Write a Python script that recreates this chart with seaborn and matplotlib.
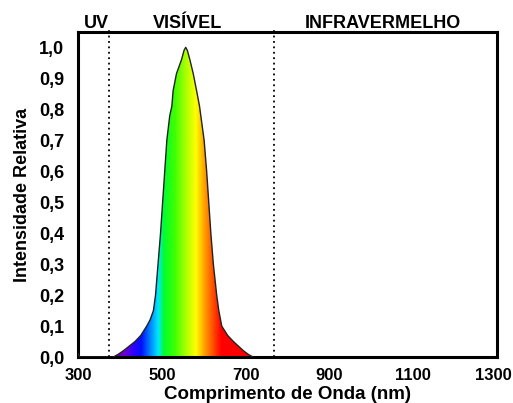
import numpy as np
import pandas as pd
import matplotlib
matplotlib.use("Agg")
import matplotlib.pyplot as plt
import matplotlib.transforms as mtransforms
from matplotlib.colors import LinearSegmentedColormap
import seaborn as sns

# ---- data ----
wavelength = [300, 304, 384, 395, 408, 422, 436, 450, 464, 472, 480, 485, 491, 497,
              502, 507, 512, 519, 524, 527, 535, 547, 553, 557, 561, 567, 575, 583,
              590, 595, 601, 607, 612, 617, 623, 631, 636, 643, 657, 671, 683, 695,
              707, 718]
intensity = [0.012, 0.0, 0.0, 0.008, 0.02, 0.035, 0.05, 0.07, 0.10, 0.12, 0.15, 0.20,
             0.30, 0.40, 0.50, 0.60, 0.70, 0.78, 0.81, 0.86, 0.915, 0.96, 0.99, 1.0,
             0.99, 0.96, 0.915, 0.86, 0.81, 0.76, 0.70, 0.60, 0.50, 0.40, 0.30, 0.20,
             0.15, 0.10, 0.07, 0.05, 0.035, 0.02, 0.008, 0.0]
region_labels = ["UV", "VISÍVEL", "INFRAVERMELHO"]
region_label_x = [345, 562, 1028]
region_bounds = [375, 768]
x_ticks = [300, 500, 700, 900, 1100, 1300]
y_ticks = [0.0, 0.1, 0.2, 0.3, 0.4, 0.5, 0.6, 0.7, 0.8, 0.9, 1.0]
y_tick_labels = ["0,0", "0,1", "0,2", "0,3", "0,4", "0,5", "0,6", "0,7", "0,8", "0,9", "1,0"]

# spectrum colour stops (wavelength nm, colour)
spec_nm = [380, 410, 430, 450, 470, 490, 503, 530, 555, 580, 600, 620, 640, 720]
spec_col = ["#6a00a8", "#7000d0", "#3000ff", "#0010ff", "#0080ff", "#00e8ff",
            "#00ff30", "#40ff00", "#a8ff00", "#ffff00", "#ffa000", "#ff5000",
            "#ff0000", "#ff0000"]

df = pd.DataFrame({"wl": wavelength, "I": intensity})

sns.set_style("white")
plt.rcParams['font.family'] = ['Liberation Sans', 'DejaVu Sans']
plt.rcParams['font.weight'] = 'bold'
plt.rcParams['text.color'] = 'black'
plt.rcParams['axes.labelcolor'] = 'black'
plt.rcParams['xtick.color'] = 'black'
plt.rcParams['ytick.color'] = 'black'

fig = plt.figure(figsize=(5.13, 4.03), dpi=100)
ax = fig.add_axes([0.152, 0.114, 0.817, 0.807])

# gradient fill clipped to the curve
lo, hi = spec_nm[0], spec_nm[-1]
pos = [(w - lo) / (hi - lo) for w in spec_nm]
cmap = LinearSegmentedColormap.from_list("spec", list(zip(pos, spec_col)))
grad = np.linspace(0, 1, 512).reshape(1, -1)
im = ax.imshow(grad, cmap=cmap, aspect="auto", extent=[lo, hi, 0, 1.0],
               origin="lower", zorder=1, interpolation="bilinear")
poly = ax.fill_between(df["wl"], 0, df["I"], facecolor="none", edgecolor="none")
clip = poly.get_paths()[0]
im.set_clip_path(clip, transform=ax.transData)

sns.lineplot(data=df, x="wl", y="I", ax=ax, color="#222222", lw=1.0, zorder=3)

for b in region_bounds:
    ax.plot([b, b], [0, 1.062], ls=(0, (1, 2)), color="black", lw=1.3,
            clip_on=False, zorder=4)

for lab, xx in zip(region_labels, region_label_x):
    ax.text(xx, 1.063, lab, ha="center", va="baseline", fontsize=13,
            fontweight="bold", color="black", transform=ax.transData)

ax.set_xlim(300, 1300)
ax.set_ylim(0, 1.05)
ax.set_xticks(x_ticks)
ax.set_yticks(y_ticks)
ax.set_yticklabels(y_tick_labels)
ax.tick_params(axis="x", direction="out", length=5, width=2, labelsize=12, pad=3,
               colors="black")
ax.tick_params(axis="y", direction="out", length=7, width=2, labelsize=13, pad=3,
               colors="black")
for lab in ax.get_xticklabels() + ax.get_yticklabels():
    lab.set_fontweight("bold")
# nudge the last x tick label so it stays inside the canvas
last = ax.get_xticklabels()[-1]
last.set_transform(last.get_transform() +
                   mtransforms.ScaledTranslation(-0.035, 0, fig.dpi_scale_trans))
for s in ax.spines.values():
    s.set_linewidth(2.2)
    s.set_color("black")
ax.set_xlabel("Comprimento de Onda (nm)", fontsize=13.5, fontweight="bold", color="black")
ax.xaxis.set_label_coords(0.5, -0.088)
ax.xaxis.label.set_va("top")
ax.set_ylabel("Intensidade Relativa", fontsize=13, fontweight="bold", labelpad=6,
              color="black")

fig.savefig("out.png", dpi=100)
